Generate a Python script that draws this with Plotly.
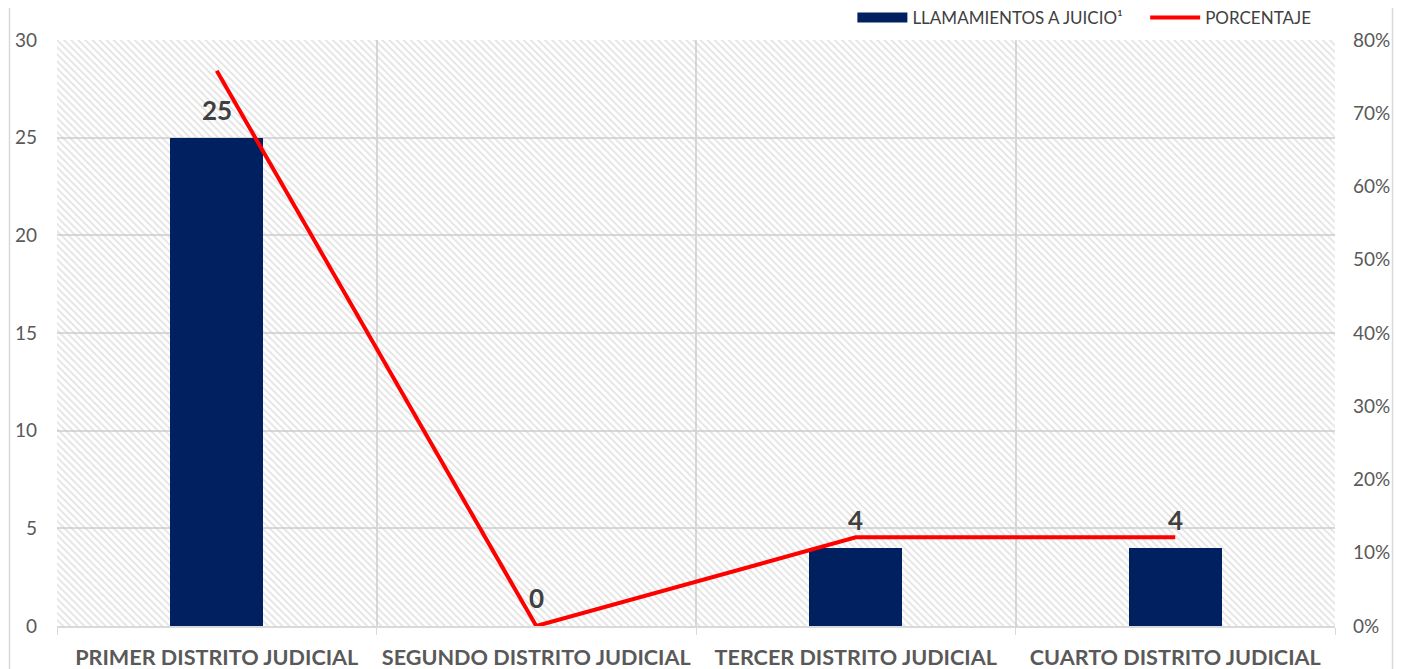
import plotly.graph_objects as go

categories = ["PRIMER DISTRITO JUDICIAL", "SEGUNDO DISTRITO JUDICIAL",
              "TERCER DISTRITO JUDICIAL", "CUARTO DISTRITO JUDICIAL"]
llamamientos = [25, 0, 4, 4]
porcentaje = [0.758, 0.0, 0.121, 0.121]
bar_labels = ["25", "0", "4", "4"]
left_ticks = [0, 5, 10, 15, 20, 25, 30]
right_ticks = [0, 0.1, 0.2, 0.3, 0.4, 0.5, 0.6, 0.7, 0.8]
left_max = 30
right_max = 0.8

FONT = "Lato"
GRID = "#d9d9d9"
TXT = "#595959"
BLUE = "#002060"

fig = go.Figure()

# hatched plot-area background
fig.add_trace(go.Bar(
    x=categories, y=[left_max] * len(categories), width=1,
    marker=dict(color="rgba(0,0,0,0)", line=dict(width=0),
                pattern=dict(shape="\\", fgcolor="#c8c8c8", bgcolor="rgba(0,0,0,0)",
                             size=5, solidity=0.35, fillmode="overlay")),
    showlegend=False, hoverinfo="skip", yaxis="y"))

fig.add_trace(go.Bar(
    x=categories, y=llamamientos, width=0.29, name="LLAMAMIENTOS A JUICIO¹",
    marker=dict(color=BLUE, line=dict(width=0)), yaxis="y", showlegend=False))

# legend proxy for the bar series (wide rectangle swatch)
fig.add_trace(go.Scatter(
    x=[None], y=[None], mode="lines", name="LLAMAMIENTOS A JUICIO¹\u00a0\u00a0\u00a0\u00a0",
    line=dict(color=BLUE, width=13), yaxis="y", hoverinfo="skip"))

fig.add_trace(go.Scatter(
    x=categories, y=porcentaje, mode="lines", name="PORCENTAJE",
    line=dict(color="#ff0000", width=4), yaxis="y2"))

for c, v, t in zip(categories, llamamientos, bar_labels):
    fig.add_annotation(x=c, y=v, text=t, showarrow=False, yshift=28,
                       yanchor="middle", xref="x", yref="y",
                       font=dict(family=FONT, size=26, color="#404040", weight="bold"))

# chart-area border lines
for xv in [(9.5 - 57) / 1278, (1392.5 - 57) / 1278]:
    fig.add_shape(type="line", xref="paper", yref="paper", x0=xv, x1=xv,
                  y0=-0.2, y1=1.2, line=dict(color=GRID, width=1.5))

fig.update_layout(
    width=1386, height=661,
    margin=dict(l=49, r=59, t=32, b=43, autoexpand=False),
    paper_bgcolor="white", plot_bgcolor="white",
    barmode="overlay", bargap=0,
    font=dict(family=FONT, color=TXT),
    xaxis=dict(range=[-0.5, 3.5], tickson="boundaries", showgrid=True, gridcolor=GRID,
               gridwidth=1.5, ticks="outside", ticklen=7, tickcolor=GRID,
               showline=True, linecolor=GRID, linewidth=1.5, automargin=False,
               tickfont=dict(family=FONT, size=21.6, color=TXT, weight="bold"),
               ticklabelstandoff=11),
    yaxis=dict(range=[0, left_max], tickvals=left_ticks, showgrid=True, gridcolor=GRID,
               gridwidth=1.5, zeroline=False, showline=False, automargin=False,
               tickfont=dict(family=FONT, size=19, color=TXT), ticklabelstandoff=19),
    yaxis2=dict(range=[0, right_max], tickvals=right_ticks, tickformat=".0%", overlaying="y",
                side="right", showgrid=False, zeroline=False, showline=False, automargin=False,
                tickfont=dict(family=FONT, size=19, color=TXT), ticklabelstandoff=17),
    legend=dict(orientation="h", xref="container", yref="container",
                x=0.944, xanchor="right", y=1 - 10 / 661, yanchor="middle",
                font=dict(family=FONT, size=17, color="#404040"), bgcolor="rgba(0,0,0,0)",
                traceorder="normal", itemwidth=50),
    showlegend=True,
)

fig.write_html("out.html")
